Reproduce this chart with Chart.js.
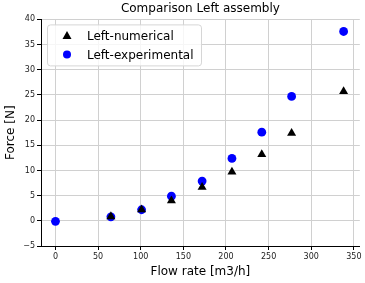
<!DOCTYPE html>
<html>
<head>
<meta charset="utf-8">
<script src="https://cdn.jsdelivr.net/npm/chart.js@4.4.0/dist/chart.umd.min.js"></script>
<style>
  html, body { margin: 0; padding: 0; background: #fff; }
  #wrap { width: 365px; height: 283px; }
</style>
</head>
<body>
<div id="wrap"><canvas id="myChart" width="365" height="283"></canvas></div>
<script>
// data
const flowNum = [65, 101, 136, 172, 207, 242, 277, 338];
const forceNum = [0.85, 2.2, 4.0, 6.7, 9.7, 13.2, 17.4, 25.7];
const flowExp = [0, 65, 101, 136, 172, 207, 242, 277, 338];
const forceExp = [-0.1, 0.8, 2.2, 4.9, 7.9, 12.4, 17.6, 24.7, 37.6];
const xTicks = [0, 50, 100, 150, 200, 250, 300, 350];
const yTicks = [-5, 0, 5, 10, 15, 20, 25, 30, 35, 40];

const font = "'DejaVu Sans', sans-serif";

function pts(xs, ys) {
  return xs.map((x, i) => ({ x: x, y: ys[i] }));
}

// legend drawn inside the plot, top-left, like matplotlib
const innerLegend = {
  id: 'innerLegend',
  afterDraw(chart) {
    const ctx = chart.ctx;
    const a = chart.chartArea;
    const x0 = a.left + 6, y0 = a.top + 5, w = 154, h = 41;
    ctx.save();
    ctx.fillStyle = 'rgba(255,255,255,0.8)';
    ctx.strokeStyle = '#d6d6d6';
    ctx.lineWidth = 1;
    ctx.beginPath();
    ctx.roundRect(x0 + 0.5, y0 + 0.5, w, h, 3);
    ctx.fill();
    ctx.stroke();
    ctx.font = '12px ' + font;
    ctx.textBaseline = 'middle';
    chart.data.datasets.forEach((ds, i) => {
      const cy = y0 + 11 + i * 19;
      ctx.fillStyle = ds.backgroundColor;
      ctx.beginPath();
      if (ds.pointStyle === 'triangle') {
        const r = 4.5;
        ctx.moveTo(x0 + 20, cy - r);
        ctx.lineTo(x0 + 20 + r, cy + r * 0.8);
        ctx.lineTo(x0 + 20 - r, cy + r * 0.8);
      } else {
        ctx.arc(x0 + 20, cy, 4, 0, Math.PI * 2);
      }
      ctx.fill();
      ctx.fillStyle = '#000';
      ctx.fillText(ds.label, x0 + 40, cy + 1);
    });
    ctx.restore();
  }
};

new Chart(document.getElementById('myChart').getContext('2d'), {
  type: 'scatter',
  data: {
    datasets: [{
      label: 'Left-numerical',
      data: pts(flowNum, forceNum),
      pointStyle: 'triangle',
      pointRadius: 5.2,
      backgroundColor: '#000000',
      borderColor: '#000000',
      borderWidth: 0
    }, {
      label: 'Left-experimental',
      data: pts(flowExp, forceExp),
      pointStyle: 'circle',
      pointRadius: 4.4,
      backgroundColor: '#0000ff',
      borderColor: '#0000ff',
      borderWidth: 0
    }]
  },
  options: {
    responsive: false,
    animation: false,
    layout: { padding: { left: 0, right: 1, top: 0, bottom: 0 } },
    plugins: {
      legend: { display: false },
      tooltip: { enabled: false },
      title: {
        display: true,
        fullSize: false,
        text: 'Comparison Left assembly',
        color: '#000',
        font: { family: font, size: 12, weight: 'normal' },
        padding: { top: 2, bottom: 3 }
      }
    },
    scales: {
      x: {
        type: 'linear',
        min: -17,
        max: 357,
        afterBuildTicks: s => { s.ticks = xTicks.map(v => ({ value: v })); },
        afterFit: s => { s.height = 37; },
        ticks: { color: '#222', font: { family: font, size: 8 }, padding: 2, maxRotation: 0 },
        grid: { color: '#d0d0d0', tickColor: '#000', tickLength: 4 },
        border: { color: '#000', width: 1 },
        title: {
          display: true, text: 'Flow rate [m3/h]', color: '#000',
          font: { family: font, size: 12 }, padding: { top: 0 }
        }
      },
      y: {
        type: 'linear',
        min: -5,
        max: 40,
        afterBuildTicks: s => { s.ticks = yTicks.map(v => ({ value: v })); },
        afterFit: s => { s.width = 41; },
        ticks: {
          color: '#222', font: { family: font, size: 8 }, padding: 2,
          callback: v => v < 0 ? '\u2212' + Math.abs(v) : v
        },
        grid: { color: '#d0d0d0', tickColor: '#000', tickLength: 4 },
        border: { color: '#000', width: 1 },
        title: {
          display: true, text: 'Force [N]', color: '#000',
          font: { family: font, size: 12 }, padding: { bottom: 2 }
        }
      }
    }
  },
  plugins: [innerLegend]
});
</script>
</body>
</html>
